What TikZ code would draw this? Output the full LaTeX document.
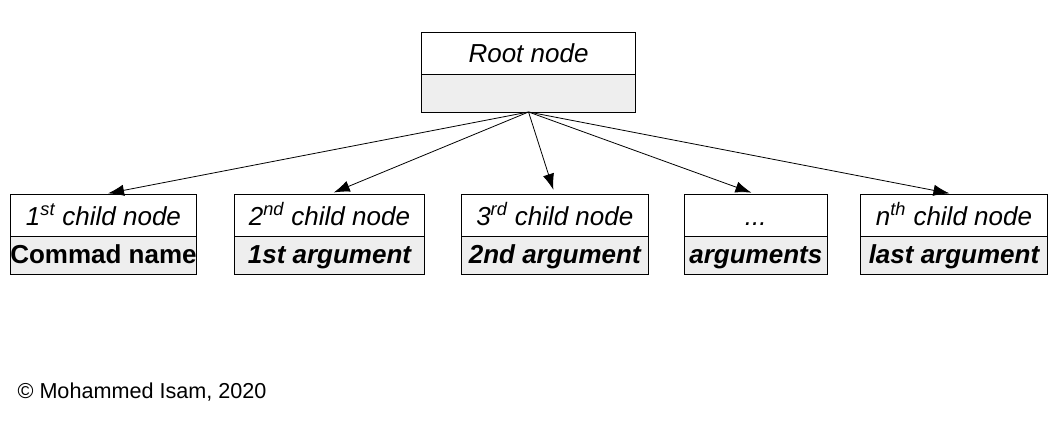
\documentclass[tikz,border=0pt]{standalone}
\usepackage{fontspec}
\setmainfont{Liberation Sans}
\usetikzlibrary{arrows.meta, positioning}
\definecolor{partgray}{HTML}{EEEEEE}

\tikzset{
    toppart/.style={draw, rectangle, minimum height=31.8pt, inner sep=0pt, outer sep=0pt, line width=0.6pt,
        text height=18pt, text depth=3.5pt, font=\fontsize{19.5}{22}\selectfont\itshape},
    lowpart/.style={draw, rectangle, minimum height=28pt, inner sep=0pt, outer sep=0pt, line width=0.6pt,
        text height=16pt, text depth=3.5pt, fill=partgray, font=\fontsize{19.5}{22}\selectfont\bfseries\itshape},
    link/.style={-{Latex[length=12pt, width=8.5pt]}, line width=0.6pt, shorten >=3.5pt},
}

\begin{document}
\begin{tikzpicture}
    \useasboundingbox (0,0) rectangle (792pt,-320.25pt);

    % root
    \node[toppart, minimum width=160.5pt, minimum height=31.3pt] (root) at (396.4pt,-39.85pt) {Root node};
    \node[lowpart, minimum width=160.5pt, minimum height=28.5pt, below=0pt of root] (rootbody) {};

    % children
    \node[toppart, minimum width=139.2pt] (child1) at (77.6pt,-161.6pt) {1\textsuperscript{st} child node};
    \node[toppart, minimum width=142.2pt, right=28.8pt of child1] (child2) {2\textsuperscript{nd} child node};
    \node[toppart, minimum width=140.2pt, right=27.8pt of child2] (child3) {3\textsuperscript{rd} child node};
    \node[toppart, minimum width=107.3pt, right=27pt of child3] (child4) {...};
    \node[toppart, minimum width=140.6pt, right=24.7pt of child4] (child5) {n\textsuperscript{th} child node};

    \node[lowpart, minimum width=139.2pt, below=0pt of child1, font=\fontsize{19.5}{22}\selectfont\bfseries] (arg1) {Commad name};
    \node[lowpart, minimum width=142.2pt, below=0pt of child2] (arg2) {1st argument};
    \node[lowpart, minimum width=140.2pt, below=0pt of child3] (arg3) {2nd argument};
    \node[lowpart, minimum width=107.3pt, below=0pt of child4] (arg4) {arguments};
    \node[lowpart, minimum width=140.6pt, below=0pt of child5] (arg5) {last argument};

    \foreach \n in {1,...,5}
        \draw[link] (rootbody.south) -- (child\n.north);

    \node[anchor=base west, inner sep=0pt, font=\fontsize{16.2}{19}\selectfont] (copy) at (13pt,-298.5pt) {© Mohammed Isam, 2020};
\end{tikzpicture}
\end{document}
